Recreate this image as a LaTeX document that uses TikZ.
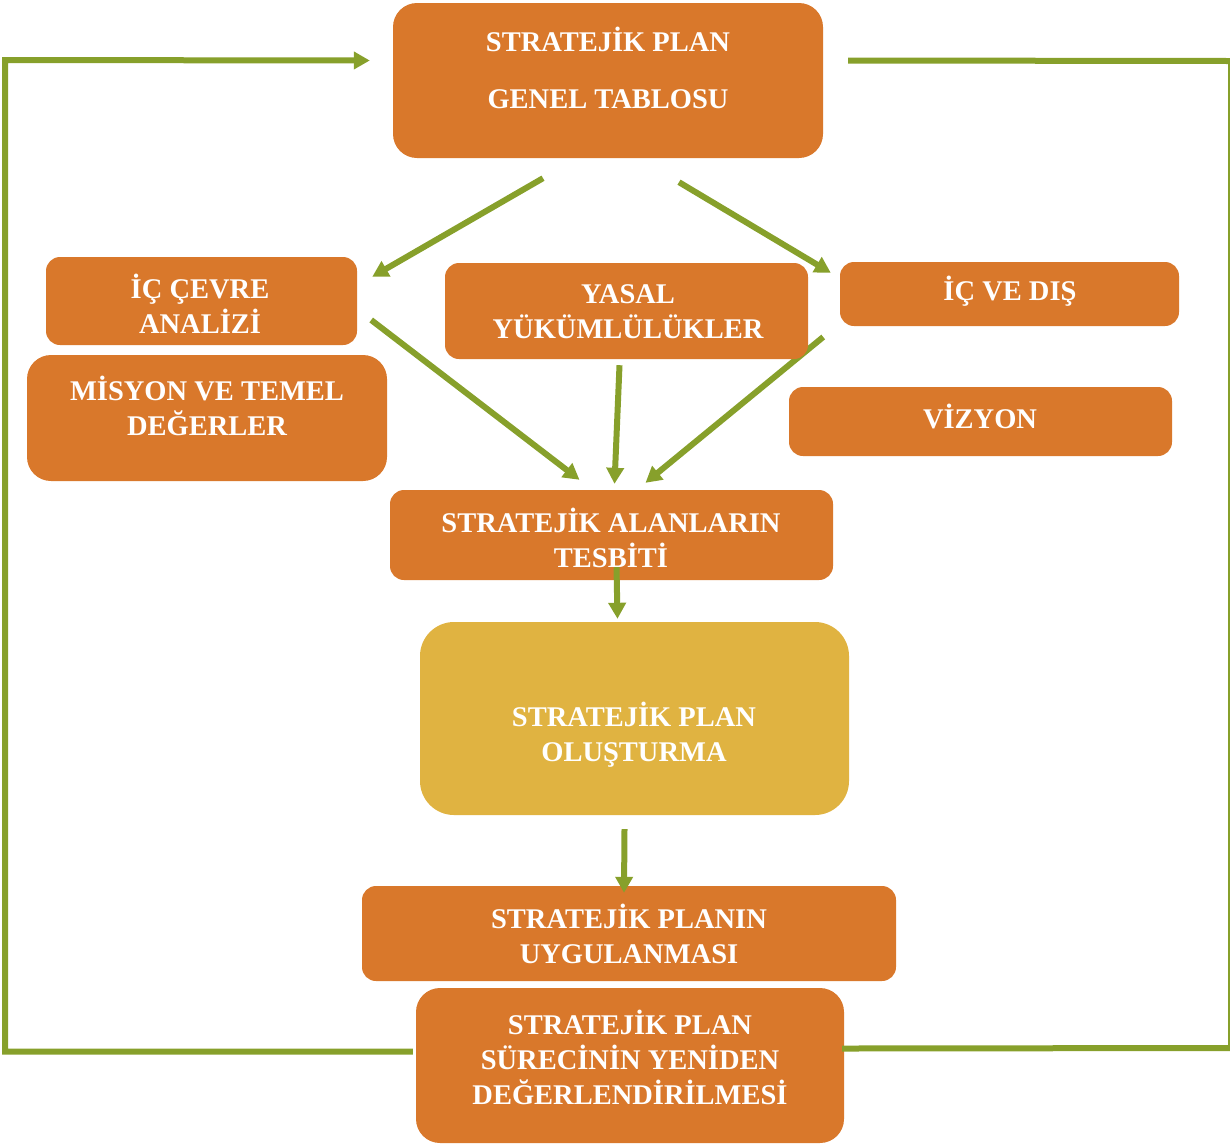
\documentclass[tikz,border=0pt]{standalone}
\usepackage{fontspec}
\setmainfont{Liberation Serif}
\usepackage{tikz}
\usetikzlibrary{positioning,arrows.meta,backgrounds}
\definecolor{turuncu}{HTML}{D9782B}
\definecolor{hardal}{HTML}{E0B341}
\definecolor{yesil}{HTML}{87A02B}
\newcommand{\kutuyazi}{\fontsize{28.5}{35}\selectfont\bfseries}

\begin{document}
\begin{tikzpicture}[x=1pt,y=-1pt,
                    kutu/.style={fill=turuncu, rounded corners=14pt, inner sep=0pt},
                    buyukkutu/.style={kutu, rounded corners=24pt},
                    yazi/.style={text=white, font=\kutuyazi, align=center, inner sep=0pt},
                    ok/.style={draw=yesil, line width=6pt, -{Triangle[length=16pt,width=17pt]}},
                    hat/.style={draw=yesil, line width=6pt}]
    \useasboundingbox (0,0) rectangle (1230,1144);

    % kutular
    \node[buyukkutu, minimum width=430pt, minimum height=155pt] (genel) at (608,80.5) {};
    \node[yazi] (genel-yazi) at (608,68) {STRATEJİK PLAN\\[22pt]GENEL TABLOSU};

    \node[kutu, minimum width=311pt, minimum height=88pt] (iccevre) at (201.5,301) {};
    \node[yazi] (iccevre-yazi) at (200,304) {İÇ ÇEVRE\\ANALİZİ};

    \node[kutu, minimum width=363pt, minimum height=96pt] (yasal) at (626.5,311) {};
    \node[yazi] (yasal-yazi) at (628,312) {YASAL\\YÜKÜMLÜLÜKLER};

    \node[kutu, minimum width=339pt, minimum height=64pt] (icdis) at (1009.5,294) {};
    \node[yazi] (icdis-yazi) at (1010,291) {İÇ VE DIŞ};

    \node[buyukkutu, minimum width=360pt, minimum height=126pt] (misyon) at (207,418) {};
    \node[yazi] (misyon-yazi) at (207,406) {MİSYON VE TEMEL\\DEĞERLER};

    \node[kutu, minimum width=383pt, minimum height=69pt] (vizyon) at (980.5,421.5) {};
    \node[yazi] (vizyon-yazi) at (980,416) {VİZYON};

    \node[kutu, minimum width=443pt, minimum height=90pt] (alanlar) at (611.5,535) {};
    \node[yazi] (alanlar-yazi) at (611,538) {STRATEJİK ALANLARIN\\TESBİTİ};

    \node[kutu, fill=hardal, rounded corners=34pt, minimum width=429pt, minimum height=193pt] (olusturma) at (634.5,718.5) {};
    \node[yazi] (olusturma-yazi) at (634,735) {STRATEJİK PLAN\\OLUŞTURMA};

    \node[kutu, minimum width=534pt, minimum height=95pt] (uygulama) at (629,933.5) {};
    \node[yazi] (uygulama-yazi) at (629,934) {STRATEJİK PLANIN\\UYGULANMASI};

    \node[buyukkutu, minimum width=428pt, minimum height=155pt] (degerlendirme) at (630,1065.5) {};
    \node[yazi] (degerlendirme-yazi) at (630,1057) {STRATEJİK PLAN\\SÜRECİNİN YENİDEN\\DEĞERLENDİRİLMESİ};

    % oklar
    \draw[ok] ([xshift=-65pt,yshift=-20pt]genel.south) -- ([xshift=15pt,yshift=-20pt]iccevre.north east);
    \draw[ok] ([xshift=71pt,yshift=-24pt]genel.south) -- ([xshift=-9pt,yshift=-11pt]icdis.north west);
    \draw[ok] ([xshift=14pt,yshift=-19pt]iccevre.east) -- ([xshift=-32pt,yshift=10pt]alanlar.north);
    \draw[ok] ([xshift=-7pt,yshift=-6pt]yasal.south) -- ([xshift=3pt,yshift=6pt]alanlar.north);
    \begin{pgfonlayer}{background}
        \draw[ok] ([xshift=15pt,yshift=-26pt]yasal.east) -- ([xshift=34pt,yshift=7pt]alanlar.north);
    \end{pgfonlayer}
    \draw[ok] ([xshift=5pt,yshift=13pt]alanlar.south) -- ([xshift=-17pt,yshift=3pt]olusturma.north);
    \draw[ok] ([xshift=-10pt,yshift=-14pt]olusturma.south) -- ([xshift=-5pt,yshift=-7pt]uygulama.north);

    % geri besleme
    \coordinate (solust) at (5,60);
    \coordinate (sagust) at (1230,61);
    \coordinate (sagalt) at (1230,1048);
    \draw[ok] ([xshift=-3pt,yshift=14pt]degerlendirme.west) -| (solust) -- ([xshift=-23pt,yshift=20pt]genel.west);
    \draw[hat] ([xshift=25pt,yshift=20pt]genel.east) -- (sagust);
    \draw[yesil, line width=2pt] ([xshift=-1pt]sagust) -- ([xshift=-1pt]sagalt);
    \draw[hat] ([xshift=-2pt,yshift=17pt]degerlendirme.east) -- (sagalt);
\end{tikzpicture}
\end{document}
